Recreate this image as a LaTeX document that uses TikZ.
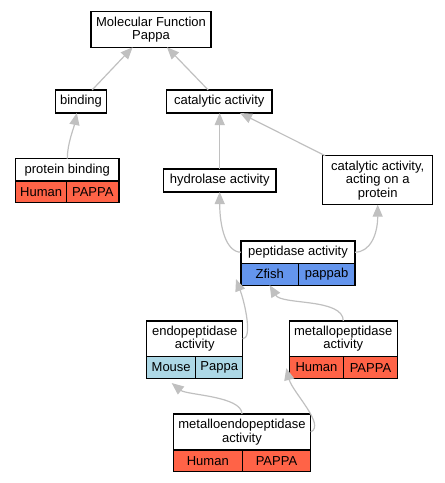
\documentclass[tikz,border=0pt]{standalone}
\usepackage{fontspec}
\setmainfont{Liberation Sans}
\usetikzlibrary{arrows.meta, calc}

\definecolor{human}{HTML}{FF6347}
\definecolor{zfish}{HTML}{6495ED}
\definecolor{mouse}{HTML}{ADD8E6}
\definecolor{edgegray}{HTML}{C0C0C0}

\tikzset{
	term/.style={draw, line width=1.2pt, fill=white, align=center, inner sep=0pt, outer sep=0pt, font=\fontsize{13}{13.5}\selectfont},
	cell/.style={term, anchor=north west, minimum height=21.8pt},
	isa/.style={draw=edgegray, line width=1.2pt, -{Triangle[length=12pt,width=10pt]}}
}

\begin{document}
\begin{tikzpicture}[x=1pt, y=1pt]
	\useasboundingbox (0,0) rectangle (445,-483);
	% terms
	\node[term, minimum width=120pt, minimum height=35.5pt] (mf) at (151,-29.5) {Molecular Function\\Pappa};
	\node[term, minimum width=50.6pt, minimum height=23pt] (binding) at (81,-101.5) {binding};
	\node[term, minimum width=105.3pt, minimum height=23pt] (catalytic) at (219.3,-101.5) {catalytic activity};
	\node[term, minimum width=103.3pt, minimum height=22.3pt] (protbind) at (67.3,-169.8) {protein binding};
	\node[cell, fill=human, minimum width=51pt] (protbindsp) at (protbind.south west) {Human};
	\node[cell, fill=human, minimum width=52.3pt] (protbindgene) at (protbindsp.north east) {PAPPA};
	\node[term, minimum width=112.7pt, minimum height=23pt] (hydrolase) at (219.7,-180.5) {hydrolase activity};
	\node[term, minimum width=110pt, minimum height=49pt] (acting) at (377.7,-180.2) {catalytic activity,\\acting on a\\protein};
	\node[term, minimum width=114pt, minimum height=22.3pt] (peptidase) at (298,-252.2) {peptidase activity};
	\node[cell, fill=zfish, minimum width=57.3pt] (peptidasesp) at (peptidase.south west) {Zfish};
	\node[cell, fill=zfish, minimum width=56.7pt] (peptidasegene) at (peptidasesp.north east) {pappab};
	\node[term, minimum width=96pt, minimum height=35.7pt] (endo) at (194.7,-338.8) {endopeptidase\\activity};
	\node[cell, fill=mouse, minimum width=49pt] (endosp) at (endo.south west) {Mouse};
	\node[cell, fill=mouse, minimum width=47pt] (endogene) at (endosp.north east) {Pappa};
	\node[term, minimum width=108pt, minimum height=35.7pt] (metallo) at (343.3,-338.8) {metallopeptidase\\activity};
	\node[cell, fill=human, minimum width=54.4pt] (metallosp) at (metallo.south west) {Human};
	\node[cell, fill=human, minimum width=53.6pt] (metallogene) at (metallosp.north east) {PAPPA};
	\node[term, minimum width=137.4pt, minimum height=36pt] (metalloendo) at (242,-432) {metalloendopeptidase\\activity};
	\node[cell, fill=human, minimum width=69pt] (metalloendosp) at (metalloendo.south west) {Human};
	\node[cell, fill=human, minimum width=68.4pt] (metalloendogene) at (metalloendosp.north east) {PAPPA};
	% is_a links
	\draw[isa] (binding.46) -- (mf.224);
	\draw[isa] (catalytic.134) -- (mf.312);
	\draw[isa] (protbind.north) .. controls +(0,15) and +(-3,-15) .. (binding.250);
	\draw[isa] (hydrolase.north) -- (hydrolase.north |- catalytic.south);
	\draw[isa] (acting.155) -- (catalytic.331);
	\draw[isa] (peptidase.west) .. controls +(-15,0) and +(0,-35) .. (hydrolase.south);
	\draw[isa] (peptidase.east) .. controls +(15,0) and +(0,-30) .. (acting.south);
	\draw[isa] (endo.east) .. controls +(10,0) and +(9,-24) .. ($(peptidasesp.south west)+(-5,6)$);
	\draw[isa] (metallo.north) .. controls +(0,23) and +(12,-20) .. (peptidasesp.south);
	\draw[isa] (metalloendo.north) .. controls +(0,18) and +(15,-12) .. ($(endosp.south)+(0.5,-4.6)$);
	\draw[isa] (metalloendo.east) .. controls +(15.3,7) and +(6,-23.7) .. ($(metallosp.west)+(-3,-0.6)$);
\end{tikzpicture}
\end{document}
